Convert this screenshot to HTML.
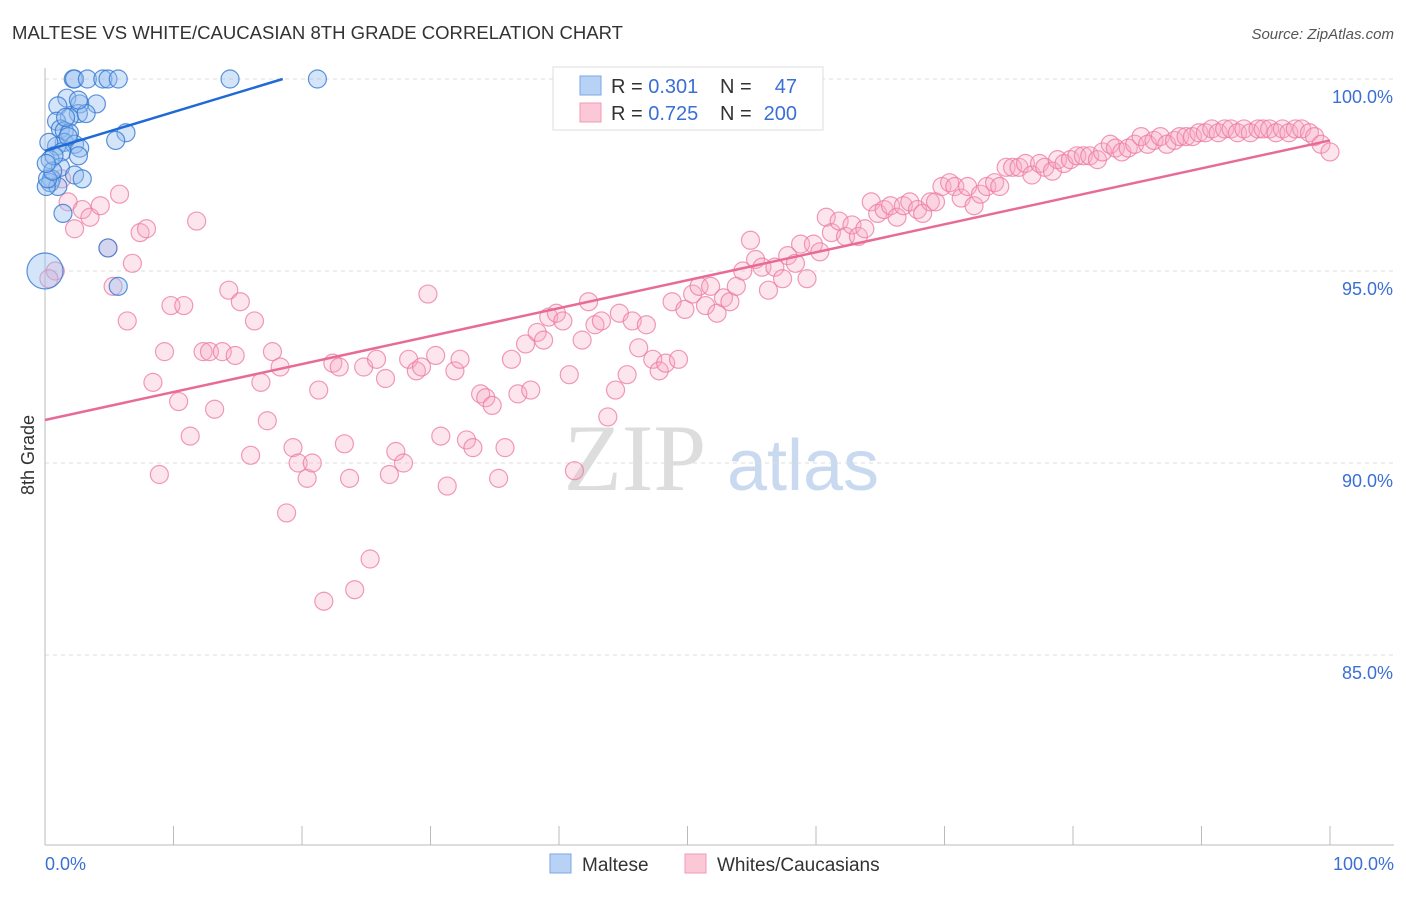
<!DOCTYPE html>
<html><head><meta charset="utf-8"><style>
body{margin:0;background:#fff;font-family:"Liberation Sans",sans-serif;}
</style></head><body>
<svg width="1406" height="892" xmlns="http://www.w3.org/2000/svg" font-family="Liberation Sans, sans-serif">
<text x="12" y="39" font-size="18" fill="#333" textLength="611" lengthAdjust="spacingAndGlyphs">MALTESE VS WHITE/CAUCASIAN 8TH GRADE CORRELATION CHART</text>
<text x="1394" y="39" font-size="15" fill="#555" text-anchor="end" font-style="italic">Source: ZipAtlas.com</text>
<g>
<text x="635" y="490" font-size="95" fill="#ddd" text-anchor="middle" font-family="Liberation Serif, serif">ZIP</text>
<text x="803" y="490" font-size="72" fill="#c9d9f0" text-anchor="middle">atlas</text>
</g>
<g id="grid"></g>
<g id="axes"></g>
<g id="marks"></g>
<text transform="translate(34,455) rotate(-90)" font-size="18" fill="#333" text-anchor="middle">8th Grade</text>
<text x="45" y="870" font-size="18" fill="#3b6fd4">0.0%</text>
<text x="1394" y="870" font-size="18" fill="#3b6fd4" text-anchor="end">100.0%</text>
<g>
<rect x="553" y="67" width="270" height="63" fill="#fff" stroke="#ddd"/>
<rect x="580" y="76" width="21" height="19" fill="#b8d2f5" stroke="#7ba6e6"/>
<rect x="580" y="103" width="21" height="19" fill="#fbc8d8" stroke="#f09ab4"/>
<text x="611" y="93" font-size="20" fill="#333">R = <tspan fill="#3b6fd4">0.301</tspan></text>
<text x="720" y="93" font-size="20" fill="#333">N =</text><text x="797" y="93" font-size="20" fill="#3b6fd4" text-anchor="end">47</text>
<text x="611" y="120" font-size="20" fill="#333">R = <tspan fill="#3b6fd4">0.725</tspan></text>
<text x="720" y="120" font-size="20" fill="#333">N =</text><text x="797" y="120" font-size="20" fill="#3b6fd4" text-anchor="end">200</text>
</g>
<g>
<rect x="550" y="854" width="21" height="19" fill="#b8d2f5" stroke="#7ba6e6"/>
<text x="582" y="871" font-size="19" fill="#333">Maltese</text>
<rect x="685" y="854" width="21" height="19" fill="#fbc8d8" stroke="#f09ab4"/>
<text x="717" y="871" font-size="19" fill="#333">Whites/Caucasians</text>
</g>
</svg>
<script>
const yTicks=[100,95,90,85];
const yTickLabels=["100.0%","95.0%","90.0%","85.0%"];
const xTicks=[0,10,20,30,40,50,60,70,80,90,100];
const blueX=[2.2,2.3,3.3,4.5,4.9,5.7,14.4,21.2,1.7,1.0,4.0,2.7,2.6,1.9,0.9,1.2,1.5,1.9,1.5,2.3,2.7,0.9,0.3,1.3,2.6,0.4,1.2,2.3,0.5,0.4,1.0,0.1,2.9,6.3,5.5,1.4,4.9,5.7,0,0.2,0.6,1.6,3.2,0.7,0.1,1.8,2.6];
const blueY=[100,100,100,100,100,100,100,100,99.5,99.3,99.35,99.35,99.1,99.0,98.9,98.7,98.65,98.6,98.35,98.3,98.2,98.25,98.35,98.1,98.0,97.9,97.7,97.5,97.4,97.3,97.2,97.2,97.4,98.6,98.4,96.5,95.6,94.6,95.0,97.4,97.6,99.0,99.1,98.0,97.8,98.5,99.45];
const blueSize=[1,1,1,1,1,1,1,1,1,1,1,1,1,1,1,1,1,1,1,1,1,1,1,1,1,1,1,1,1,1,1,1,1,1,1,1,1,1,2,1,1,1,1,1,1,1,1];
const pinkX=[0.8,0.3,1.3,1.8,2.3,2.9,3.5,4.3,4.9,5.3,5.8,6.4,6.8,7.4,7.9,8.4,8.9,9.3,9.8,10.4,10.8,11.3,11.8,12.3,12.8,13.2,13.8,14.3,14.8,15.2,16.0,16.3,16.8,17.3,17.7,18.3,18.8,19.3,19.7,20.4,20.8,21.3,21.7,22.4,22.9,23.3,23.7,24.1,24.8,25.3,25.8,26.5,26.8,27.3,27.9,28.3,28.9,29.3,29.8,30.4,30.8,31.3,31.9,32.3,32.8,33.3,33.9,34.3,34.8,35.3,35.8,36.3,36.8,37.4,37.8,38.3,38.8,39.2,39.8,40.3,40.8,41.2,41.8,42.3,42.8,43.3,43.8,44.4,44.7,45.3,45.7,46.2,46.8,47.3,47.8,48.3,48.8,49.3,49.8,50.4,50.9,51.4,51.8,52.3,52.8,53.3,53.8,54.3,54.9,55.3,55.8,56.3,56.8,57.4,57.8,58.4,58.8,59.3,59.8,60.3,60.8,61.2,61.8,62.3,62.8,63.3,63.8,64.3,64.8,65.3,65.8,66.3,66.8,67.3,67.9,68.3,68.9,69.3,69.8,70.4,70.8,71.3,71.8,72.3,72.8,73.3,73.9,74.3,74.8,75.3,75.8,76.3,76.8,77.4,77.8,78.4,78.8,79.3,79.8,80.3,80.8,81.3,81.9,82.3,82.9,83.3,83.8,84.3,84.8,85.3,85.8,86.3,86.8,87.3,87.9,88.3,88.8,89.3,89.8,90.3,90.8,91.3,91.8,92.3,92.8,93.3,93.8,94.4,94.8,95.3,95.8,96.3,96.8,97.3,97.8,98.4,98.8,99.3,100];
const pinkY=[95.0,94.8,97.4,96.8,96.1,96.6,96.4,96.7,95.6,94.6,97.0,93.7,95.2,96.0,96.1,92.1,89.7,92.9,94.1,91.6,94.1,90.7,96.3,92.9,92.9,91.4,92.9,94.5,92.8,94.2,90.2,93.7,92.1,91.1,92.9,92.5,88.7,90.4,90.0,89.6,90.0,91.9,86.4,92.6,92.5,90.5,89.6,86.7,92.5,87.5,92.7,92.2,89.7,90.3,90.0,92.7,92.4,92.5,94.4,92.8,90.7,89.4,92.4,92.7,90.6,90.4,91.8,91.7,91.5,89.6,90.4,92.7,91.8,93.1,91.9,93.4,93.2,93.8,93.9,93.7,92.3,89.8,93.2,94.2,93.6,93.7,91.2,91.9,93.9,92.3,93.7,93.0,93.6,92.7,92.4,92.6,94.2,92.7,94.0,94.4,94.6,94.1,94.6,93.9,94.3,94.2,94.6,95.0,95.8,95.3,95.1,94.5,95.1,94.8,95.4,95.2,95.7,94.8,95.7,95.5,96.4,96.0,96.3,95.9,96.2,95.9,96.1,96.8,96.5,96.6,96.7,96.4,96.7,96.8,96.6,96.5,96.8,96.8,97.2,97.3,97.2,96.9,97.2,96.7,97.0,97.2,97.3,97.2,97.7,97.7,97.7,97.8,97.5,97.8,97.7,97.6,97.9,97.8,97.9,98.0,98.0,98.0,97.9,98.1,98.3,98.2,98.1,98.2,98.3,98.5,98.3,98.4,98.5,98.3,98.4,98.5,98.5,98.5,98.6,98.6,98.7,98.6,98.7,98.7,98.6,98.7,98.6,98.7,98.7,98.7,98.6,98.7,98.6,98.7,98.7,98.6,98.5,98.3,98.1];
const blueTrend=[[0,98.13],[18.5,100]];
const pinkTrend=[[0,91.12],[100,98.4]];

const NS="http://www.w3.org/2000/svg";
const X0=45,X1=1330,YTOP=79;
function xs(v){return X0+(X1-X0)*v/100;}
function ys(v){return YTOP+(100-v)*38.4;}
function mk(t,a,p){const e=document.createElementNS(NS,t);for(const k in a)e.setAttribute(k,a[k]);p.appendChild(e);return e;}
const grid=document.getElementById('grid'),axes=document.getElementById('axes'),marks=document.getElementById('marks');
yTicks.forEach((v,i)=>{
 const l=mk('line',{x1:X0,x2:1394,y1:ys(v),y2:ys(v),stroke:'#ddd','stroke-dasharray':'4,4'},grid);
 
 
 const t=mk('text',{x:1393,y:ys(v)+24,'font-size':18,fill:'#3b6fd4','text-anchor':'end'},axes);
 t.textContent=yTickLabels[i];
 
 
});
const ax=mk('line',{x1:X0,x2:X0,y1:68,y2:845,stroke:'#bbb'},axes);


const bx=mk('line',{x1:X0,x2:1394,y1:845,y2:845,stroke:'#bbb'},axes);


xTicks.forEach(v=>{
 const t=mk('line',{x1:xs(v),x2:xs(v),y1:826,y2:845,stroke:'#bbb'},axes);
 
 
});
pinkX.forEach((v,i)=>{
 const c=mk('circle',{cx:xs(v),cy:ys(pinkY[i]),r:9,fill:'rgba(248,170,195,0.3)',stroke:'rgba(236,120,160,0.75)','stroke-width':1.2},marks);
 
 
});
blueX.forEach((v,i)=>{
 const c=mk('circle',{cx:xs(v),cy:ys(blueY[i]),r:9*blueSize[i],fill:'rgba(150,190,240,0.4)',stroke:'rgba(50,120,210,0.8)','stroke-width':1.2},marks);
 
 
});
const bl=mk('line',{x1:xs(blueTrend[0][0]),y1:ys(blueTrend[0][1]),x2:xs(blueTrend[1][0]),y2:ys(blueTrend[1][1]),stroke:'#1f6ad6','stroke-width':2.5},marks);


const pl=mk('line',{x1:xs(pinkTrend[0][0]),y1:ys(pinkTrend[0][1]),x2:xs(pinkTrend[1][0]),y2:ys(pinkTrend[1][1]),stroke:'#e86a98','stroke-width':2.5},marks);


</script>
</body></html>
